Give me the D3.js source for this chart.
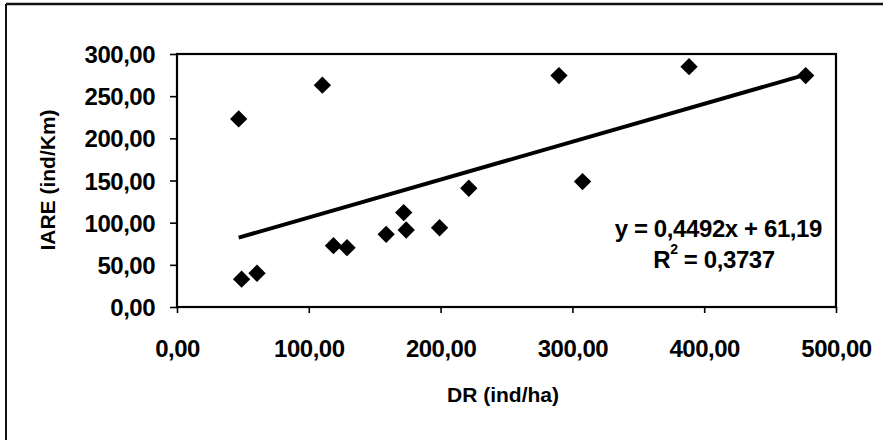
<!DOCTYPE html>
<html><head><meta charset="utf-8">
<script src="https://cdn.jsdelivr.net/npm/d3@7"></script>
<style>
body{margin:0;background:#fff;}
text{font-family:"Liberation Sans",Arial,sans-serif;font-weight:bold;fill:#000;}
</style></head>
<body><svg id="c" width="883" height="440"></svg>
<script>
const drValues   = [46.8, 49, 60.7, 110.3, 118.7, 129, 158.7, 172, 173.9, 199.2, 221.4, 289.8, 307.7, 388.5, 477];
const iareValues = [223, 33, 40, 263, 72.7, 70.3, 86.2, 112, 91.3, 94, 140.8, 274.4, 148.7, 285, 274.4];
const xTicks = [0, 100, 200, 300, 400, 500];
const yTicks = [0, 50, 100, 150, 200, 250, 300];
const slope = 0.4492, intercept = 61.19;
const eqLabel = "y = 0,4492x + 61,19";
const r2Value = "0,3737";
const xTitle = "DR (ind/ha)";
const yTitle = "IARE (ind/Km)";

const svg = d3.select("#c");
const L = 177, R = 836, T = 54, B = 307;
const x = d3.scaleLinear().domain([0, 500]).range([L, R]);
const y = d3.scaleLinear().domain([0, 300]).range([B, T]);
const fmt = d => d3.format(".2f")(d).replace(".", ",");

// outer frame (top and left only)
svg.append("line").attr("x1",6).attr("x2",883).attr("y1",4).attr("y2",4).attr("stroke","#111").attr("stroke-width",2.5);
svg.append("line").attr("x1",6).attr("x2",6).attr("y1",4).attr("y2",440).attr("stroke","#111").attr("stroke-width",2);

// plot box
svg.append("rect").attr("x",L).attr("y",T).attr("width",R-L).attr("height",B-T)
  .attr("fill","none").attr("stroke","#000").attr("stroke-width",2.2);

// axes
const xa = svg.append("g").attr("transform",`translate(0,${B})`)
  .call(d3.axisBottom(x).tickValues(xTicks).tickFormat(fmt).tickSize(6).tickPadding(27));
const ya = svg.append("g").attr("transform",`translate(${L},0)`)
  .call(d3.axisLeft(y).tickValues(yTicks).tickFormat(fmt).tickSize(7).tickPadding(15));
[xa, ya].forEach(g => {
  g.select(".domain").remove();
  g.selectAll("line").attr("stroke","#000").attr("stroke-width",1.6);
  g.selectAll("text").style("font-size","24px").style("letter-spacing","-0.5px").attr("fill","#000");
});
ya.selectAll("text").attr("dy","0.36em");

// trendline
const x0 = d3.min(drValues), x1 = d3.max(drValues);
svg.append("line")
  .attr("x1", x(x0)).attr("y1", y(slope*x0+intercept))
  .attr("x2", x(x1)).attr("y2", y(slope*x1+intercept))
  .attr("stroke","#000").attr("stroke-width",4);

// points
svg.append("g").selectAll("path").data(drValues).join("path")
  .attr("d", d3.symbol().type(d3.symbolSquare).size(150))
  .attr("transform",(d,i)=>`translate(${x(d)},${y(iareValues[i])}) rotate(45)`)
  .attr("fill","#000");

// equation
svg.append("text").attr("x",822).attr("y",237).attr("text-anchor","end")
  .style("font-size","24px").style("letter-spacing","-0.4px").text(eqLabel);
const r2 = svg.append("text").attr("x",714).attr("y",268).attr("text-anchor","middle")
  .style("font-size","24px").style("letter-spacing","-0.4px");
r2.append("tspan").text("R");
r2.append("tspan").attr("dy",-14).style("font-size","14px").text("2");
r2.append("tspan").attr("dy",14).text(" = " + r2Value);

// axis titles
svg.append("text").attr("x",503).attr("y",402).attr("text-anchor","middle")
  .style("font-size","21px").text(xTitle);
svg.append("text").attr("transform","translate(55,180) rotate(-90)").attr("text-anchor","middle")
  .style("font-size","21px").text(yTitle);
</script></body></html>
